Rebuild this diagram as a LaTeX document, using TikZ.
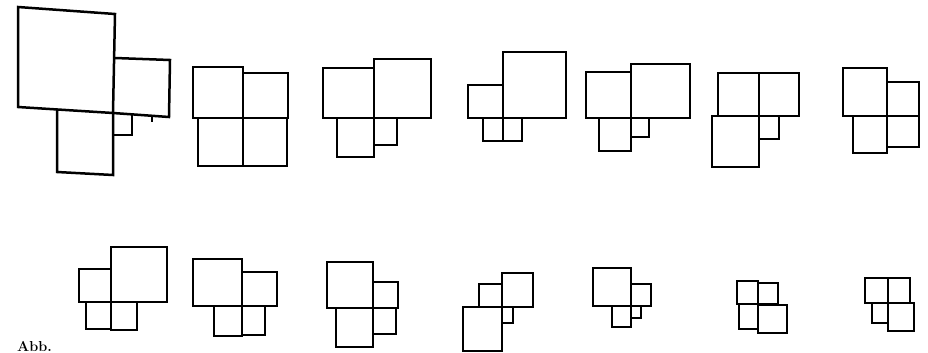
\documentclass[tikz,border=0pt]{standalone}
\begin{document}
\begin{tikzpicture}
  [x=1pt,y=-1pt,sq/.style={draw=black,line width=2.5pt,line join=miter},
   every node/.style={inner sep=0pt}]
  \useasboundingbox (0,0) rectangle (928,353);

  % first figure, a little skewed
  \draw[sq] (18,7) -- (115,14) -- (113,113) -- (18,107) -- cycle;
  \draw[sq] (115,58) -- (170,60) -- (169,117) -- (113,113);
  \draw[sq] (57,110) -- (57,172) -- (113,175) -- (113,113);
  \draw[sq] (132,115) -- (132,135) -- (113,135);
  \draw[line width=1.5pt] (152,117) -- (152,122);

  % upper row
  \foreach \xa/\ya/\xb/\yb in {193/67/243/118, 243/73/288/118, 198/118/243/166, 243/118/287/166,
      323/68/374/118, 374/59/431/118, 337/118/374/157, 374/118/397/145,
      468/85/503/118, 503/52/566/118, 483/118/503/141, 503/118/522/141,
      586/72/631/118, 631/64/690/118, 599/118/631/151, 631/118/649/137,
      718/73/759/116, 759/73/799/116, 712/116/759/167, 759/116/779/139,
      843/68/887/116, 887/82/919/116, 853/116/887/153, 887/116/919/147}
    \draw[sq] (\xa,\ya) rectangle (\xb,\yb);

  % lower row
  \foreach \xa/\ya/\xb/\yb in {79/269/111/302, 111/247/167/302, 86/302/111/329, 111/302/137/330,
      193/259/242/306, 242/272/277/306, 214/306/242/336, 242/306/265/335,
      327/262/373/308, 373/282/398/308, 336/308/373/347, 373/308/396/334,
      479/284/502/307, 502/273/533/307, 463/307/502/351, 502/307/513/323,
      593/268/631/306, 631/284/651/306, 612/306/631/327, 631/306/641/318,
      737/281/758/304, 758/283/778/304, 739/304/758/329, 758/305/787/333,
      865/278/888/303, 888/278/910/303, 872/303/888/323, 888/303/914/331}
    \draw[sq] (\xa,\ya) rectangle (\xb,\yb);

  % caption
  \node[anchor=south west,font=\bfseries\Large] (cap) at (17,352) {Abb.};
\end{tikzpicture}
\end{document}
